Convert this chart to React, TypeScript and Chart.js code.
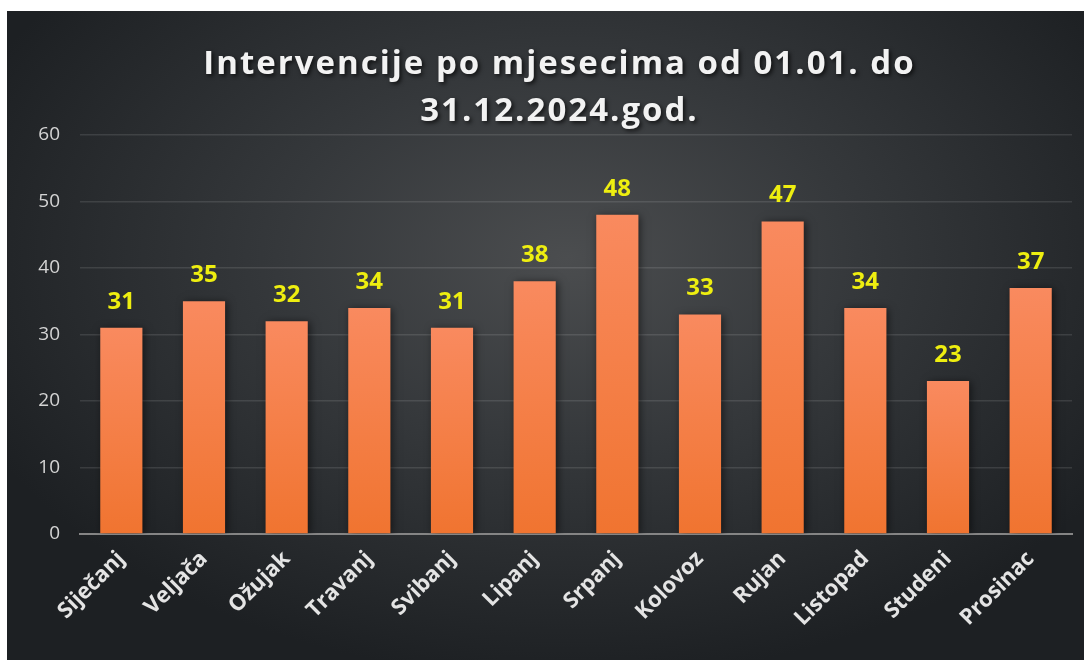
import React, { useEffect, useRef } from "react";
import { Chart, registerables } from "chart.js";

Chart.register(...registerables);

const months = [
  "Siječanj",
  "Veljača",
  "Ožujak",
  "Travanj",
  "Svibanj",
  "Lipanj",
  "Srpanj",
  "Kolovoz",
  "Rujan",
  "Listopad",
  "Studeni",
  "Prosinac",
];
const interventions = [31, 35, 32, 34, 31, 38, 48, 33, 47, 34, 23, 37];
const titleLines = ["Intervencije po mjesecima od 01.01. do", "31.12.2024.god."];
const yTicks = [0, 10, 20, 30, 40, 50, 60];

const FONT = "'Open Sans', 'DejaVu Sans', sans-serif";

const titlePlugin = {
  id: "customTitle",
  afterDraw(chart: any) {
    const ctx = chart.ctx;
    ctx.save();
    ctx.font = `bold 33px ${FONT}`;
    (ctx as any).letterSpacing = "2px";
    ctx.fillStyle = "#f2f2f2";
    ctx.textAlign = "center";
    ctx.textBaseline = "alphabetic";
    ctx.shadowColor = "rgba(0,0,0,0.7)";
    ctx.shadowBlur = 4;
    ctx.shadowOffsetX = 2;
    ctx.shadowOffsetY = 2;
    const cx = chart.width / 2 + 14;
    ctx.fillText(titleLines[0], cx, 63);
    ctx.fillText(titleLines[1], cx, 110);
    ctx.restore();
  },
};

const barShadowPlugin = {
  id: "barShadow",
  beforeDatasetDraw(chart: any) {
    const ctx = chart.ctx;
    ctx.save();
    ctx.shadowColor = "rgba(0,0,0,0.55)";
    ctx.shadowBlur = 8;
    ctx.shadowOffsetX = 2;
    ctx.shadowOffsetY = 1;
  },
  afterDatasetDraw(chart: any) {
    chart.ctx.restore();
  },
};

const valueLabelPlugin = {
  id: "valueLabels",
  afterDatasetsDraw(chart: any) {
    const ctx = chart.ctx;
    const meta = chart.getDatasetMeta(0);
    ctx.save();
    ctx.font = `bold 24px ${FONT}`;
    ctx.fillStyle = "#eeee10";
    ctx.textAlign = "center";
    ctx.textBaseline = "middle";
    meta.data.forEach((bar: any, i: number) => {
      const v = chart.data.datasets[0].data[i];
      ctx.fillText(String(v), bar.x, bar.y - 26);
    });
    ctx.restore();
  },
};

export default function App() {
  const canvasRef = useRef<HTMLCanvasElement | null>(null);

  useEffect(() => {
    if (!canvasRef.current) return;
    const chart = new Chart(canvasRef.current, {
      type: "bar",
      data: {
        labels: months,
        datasets: [
          {
            data: interventions,
            backgroundColor: (c: any) => {
              const chart = c.chart;
              if (!chart.chartArea || c.raw === undefined) return "#f3803f";
              const ys = chart.scales.y;
              const top = ys.getPixelForValue(c.raw);
              const base = ys.getPixelForValue(0);
              const g = chart.ctx.createLinearGradient(0, top, 0, base);
              g.addColorStop(0, "#f98a5f");
              g.addColorStop(1, "#f07430");
              return g;
            },
            borderWidth: 0,
            barPercentage: 0.51,
            categoryPercentage: 1,
          },
        ],
      },
      options: {
        animation: false,
        responsive: true,
        maintainAspectRatio: false,
        layout: { padding: { top: 124, right: 12, left: 0, bottom: 0 } },
        plugins: {
          legend: { display: false },
          title: { display: false },
          tooltip: { enabled: false },
        },
        scales: {
          x: {
            grid: { display: false },
            border: { display: true, color: "#858585", width: 2 },
            ticks: {
              color: "#e4e4e4",
              font: { family: FONT, size: 22, weight: "bold" },
              maxRotation: 45,
              minRotation: 45,
              padding: 4,
            },
            afterFit(scale: any) {
              scale.height = 126;
            },
          },
          y: {
            min: 0,
            max: 60,
            afterBuildTicks(scale: any) {
              scale.ticks = yTicks.map((v) => ({ value: v }));
            },
            grid: {
              color: "rgba(255,255,255,0.11)",
              lineWidth: 1.5,
              drawTicks: false,
            },
            border: { display: false },
            ticks: {
              color: "#d4d4d4",
              font: { family: FONT, size: 19 },
              padding: 20,
            },
            afterFit(scale: any) {
              scale.width = 73;
            },
          },
        },
      },
      plugins: [barShadowPlugin, valueLabelPlugin, titlePlugin],
    });
    return () => chart.destroy();
  }, []);

  return (
    <div style={{ position: "fixed", inset: 0, background: "#ffffff" }}>
      <div
        style={{
          position: "absolute",
          left: 7,
          top: 11,
          width: 1077,
          height: 649,
          background:
            "radial-gradient(ellipse 60% 65% at 52% 38%, #4b4d4f 0%, #35383b 45%, #1d2023 100%)",
        }}
      >
        <canvas ref={canvasRef} />
      </div>
    </div>
  );
}
